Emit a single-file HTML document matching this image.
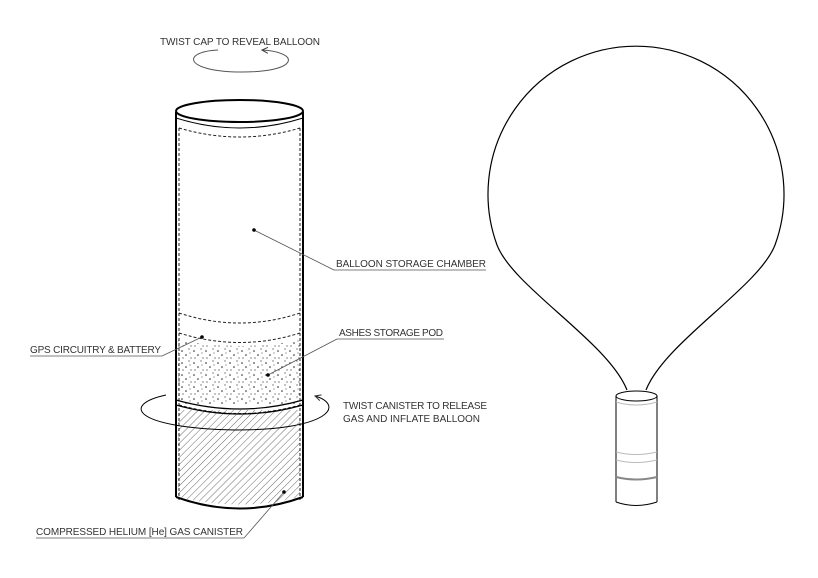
<!DOCTYPE html><html><head><style>body{margin:0;background:#fff}svg{display:block}text{font-family:"Liberation Sans",sans-serif;font-size:10px;fill:#333}</style></head><body>
<svg width="818" height="578" viewBox="0 0 818 578" xmlns="http://www.w3.org/2000/svg">
<defs>
<pattern id="dots" width="12" height="12" patternUnits="userSpaceOnUse">
<circle cx="2" cy="3" r=".8" fill="#222"/><circle cx="9" cy="1" r=".6" fill="#333"/><circle cx="6" cy="7" r=".8" fill="#222"/><circle cx="11" cy="10" r=".6" fill="#333"/><circle cx="3" cy="10" r=".6" fill="#333"/><circle cx="10" cy="5" r=".5" fill="#222"/></pattern>
<pattern id="hatch" width="5" height="5" patternUnits="userSpaceOnUse" patternTransform="rotate(45)"><line x1="0" y1="0" x2="0" y2="5" stroke="#444" stroke-width=".8"/></pattern>
<marker id="ah" markerWidth="8" markerHeight="8" refX="6" refY="4" orient="auto"><path d="M0,1 L6,4 L0,7" fill="none" stroke="#333"/></marker>
</defs>
<text x="160" y="45" textLength="160">TWIST CAP TO REVEAL BALLOON</text>
<path d="M218,50 C180,52 185,72 242,72 C300,72 300,52 262,50" fill="none" stroke="#555" stroke-width="1" marker-end="url(#ah)"/>
<rect x="176" y="112" width="127" height="385" fill="#fff"/>
<path d="M178,340 Q240,352 300,340 L300,405 L178,405Z" fill="url(#dots)"/>
<path d="M178,410 L300,410 L300,497 Q240,512 178,497Z" fill="url(#hatch)"/>
<line x1="176" y1="112" x2="176" y2="497" stroke="#000" stroke-width="2"/>
<line x1="303" y1="112" x2="303" y2="497" stroke="#000" stroke-width="2"/>
<ellipse cx="239.5" cy="111" rx="63.5" ry="11" fill="#fff" stroke="#000" stroke-width="2"/>
<path d="M176,118 Q240,138 303,118" fill="none" stroke="#000" stroke-width="1"/>
<g fill="none" stroke="#222" stroke-width="1" stroke-dasharray="3,2">
<path d="M179,128 Q240,146 300,128"/>
<line x1="179" y1="128" x2="179" y2="500"/><line x1="300" y1="128" x2="300" y2="500"/>
<path d="M179,313 Q240,333 300,313"/>
<path d="M179,333 Q240,352 300,333"/>
<path d="M179,405 Q240,422 300,405"/>
</g>
<path d="M176,400 Q240,418 303,400 M176,405 Q240,423 303,405" fill="none" stroke="#000" stroke-width="1.2"/>
<path d="M176,497 Q240,520 303,497" fill="none" stroke="#000" stroke-width="2"/>
<path d="M166,395 C120,405 135,428 235,430 C330,430 345,405 315,396" fill="none" stroke="#000" stroke-width="1" marker-end="url(#ah)"/>
<g stroke="#555" stroke-width=".8" fill="none">
<line x1="254" y1="230" x2="334" y2="270"/><line x1="334" y1="270" x2="486" y2="270"/>
<line x1="268" y1="375" x2="337" y2="339"/><line x1="337" y1="339" x2="444" y2="339"/>
<line x1="202" y1="337" x2="162" y2="356"/><line x1="30" y1="356" x2="162" y2="356"/>
<line x1="284" y1="492" x2="244" y2="538"/><line x1="36" y1="538" x2="244" y2="538"/>
</g>
<g fill="#000"><circle cx="254" cy="230" r="1.8"/><circle cx="268" cy="375" r="1.8"/><circle cx="202" cy="337" r="1.8"/><circle cx="284" cy="492" r="1.8"/></g>
<text x="336" y="267" textLength="150">BALLOON STORAGE CHAMBER</text>
<text x="339" y="336" textLength="104">ASHES STORAGE POD</text>
<text x="30" y="353" textLength="131">GPS CIRCUITRY &amp; BATTERY</text>
<text x="343" y="409" textLength="144">TWIST CANISTER TO RELEASE</text>
<text x="343" y="422" textLength="137">GAS AND INFLATE BALLOON</text>
<text x="36" y="535" textLength="207">COMPRESSED HELIUM [He] GAS CANISTER</text>
<path d="M627,390 C608,342 513,287 497,245 A148,148 0 1 1 775,245 C759,287 665,342 646,390" fill="none" stroke="#000" stroke-width="1.2"/>
<rect x="616" y="396" width="41" height="106" fill="#fff"/>
<line x1="616" y1="396" x2="616" y2="502" stroke="#000"/><line x1="657" y1="396" x2="657" y2="502" stroke="#000"/>
<ellipse cx="636.5" cy="396" rx="20.5" ry="5" fill="none" stroke="#000"/>
<path d="M616,402 Q636,408 657,402" fill="none" stroke="#bbb"/>
<path d="M616,452 Q636,457 657,452 M616,460 Q636,465 657,460" fill="none" stroke="#bbb"/>
<path d="M616,477 Q636,482 657,477" fill="none" stroke="#888" stroke-width="2"/>
<path d="M616,502 Q636,509 657,502" fill="none" stroke="#000"/>
</svg></body></html>
